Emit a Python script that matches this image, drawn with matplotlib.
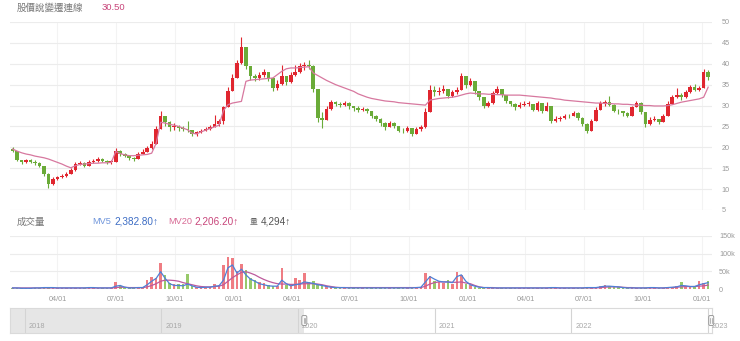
import matplotlib
matplotlib.use('Agg')
import matplotlib.pyplot as plt
import matplotlib.dates as mdates
from matplotlib.patches import FancyBboxPatch
from matplotlib.transforms import IdentityTransform
import numpy as np
import pandas as pd

plt.rcParams['font.family'] = ['Liberation Sans', 'Noto Sans CJK TC', 'DejaVu Sans']

W, H = 740, 341

# ---------------- data (weekly) ----------------
week_start = '2020-01-20'
first_open = 19.6

close = [19.2, 17.0, 16.4, 16.9, 16.6, 16.2, 15.6, 13.6, 11.2, 12.4,
         12.8, 13.1, 13.6, 14.6, 16.0, 16.3, 15.6, 16.6, 16.8, 17.1,
         16.8, 16.5, 16.5, 19.2, 18.4, 18.0, 17.4, 17.2, 18.5, 19.0,
         19.8, 20.8, 24.5, 27.5, 26.0, 24.8, 25.2, 24.7, 24.4, 24.2,
         23.2, 23.6, 24.0, 24.4, 24.8, 25.6, 26.2, 29.6, 33.5, 36.5,
         40.2, 44.0, 39.5, 37.0, 36.6, 37.2, 38.0, 36.5, 34.2, 35.2,
         37.0, 35.6, 37.2, 38.0, 39.4, 39.8, 39.5, 34.0, 27.0, 26.5,
         29.2, 30.8, 30.4, 30.2, 30.6, 29.8, 29.4, 28.9, 29.2, 28.6,
         27.6, 26.8, 25.8, 24.8, 25.8, 25.2, 24.0, 23.8, 24.6, 23.2,
         24.4, 24.8, 28.5, 33.8, 33.2, 33.6, 34.0, 32.2, 33.2, 33.8,
         37.0, 35.0, 35.8, 33.4, 32.0, 30.0, 30.6, 33.0, 34.0, 32.6,
         31.2, 30.4, 29.6, 30.2, 30.4, 30.4, 29.0, 30.6, 28.6, 30.0,
         26.2, 26.8, 27.0, 27.6, 27.4, 28.2, 27.0, 25.6, 24.0, 26.2,
         29.0, 30.6, 30.8, 30.2, 28.8, 28.6, 28.2, 27.6, 29.6, 30.6,
         28.4, 25.6, 26.6, 26.8, 26.0, 27.6, 30.4, 32.0, 32.6, 32.0,
         33.2, 34.4, 33.8, 34.2, 38.0, 36.8]

high = [20.0, 18.0, 17.0, 17.2, 17.1, 17.0, 16.6, 15.6, 13.8, 12.9,
        13.2, 13.5, 14.0, 15.0, 16.6, 16.8, 16.4, 17.0, 17.3, 17.6,
        17.4, 17.0, 16.9, 19.8, 19.4, 18.6, 18.1, 17.8, 18.9, 19.5,
        20.3, 21.5, 25.2, 28.8, 27.5, 26.2, 25.8, 25.4, 25.2, 26.2,
        24.0, 24.0, 24.4, 24.8, 25.4, 27.8, 26.8, 30.0, 34.5, 37.5,
        41.0, 46.3, 43.5, 39.5, 37.5, 38.0, 38.8, 37.8, 36.4, 36.0,
        39.8, 37.0, 38.0, 39.8, 40.2, 40.4, 41.0, 39.6, 34.0, 28.5,
        29.8, 31.4, 31.2, 30.8, 31.0, 30.8, 30.0, 29.8, 29.6, 29.4,
        28.6, 27.8, 27.0, 26.0, 26.3, 26.0, 25.2, 24.6, 25.2, 24.6,
        24.8, 25.4, 29.5, 35.0, 34.6, 34.4, 35.0, 34.0, 33.8, 34.4,
        37.8, 37.0, 36.6, 35.8, 33.6, 31.8, 31.2, 33.6, 34.6, 34.0,
        32.6, 31.2, 30.6, 30.8, 31.0, 31.0, 30.4, 31.2, 30.6, 30.8,
        30.0, 27.4, 27.6, 28.0, 28.0, 28.8, 28.4, 27.2, 25.8, 26.8,
        29.6, 31.2, 31.4, 32.2, 30.4, 29.2, 28.8, 28.4, 30.0, 31.0,
        30.8, 28.4, 27.2, 27.4, 26.8, 28.0, 31.2, 32.6, 34.2, 33.0,
        33.8, 35.0, 35.2, 34.8, 38.8, 38.6]

low = [18.8, 16.8, 16.0, 16.2, 16.3, 15.8, 15.2, 13.2, 10.2, 11.0,
       12.2, 12.6, 13.0, 13.8, 14.4, 15.8, 15.2, 15.5, 16.3, 16.6,
       16.4, 16.0, 16.1, 16.4, 18.0, 17.6, 17.0, 16.8, 17.2, 18.3,
       19.0, 19.6, 20.8, 24.5, 25.2, 24.0, 24.2, 24.0, 23.8, 23.6,
       22.8, 22.8, 23.4, 23.8, 24.2, 24.8, 25.2, 25.6, 29.6, 33.5,
       36.5, 40.0, 38.8, 36.2, 35.8, 36.2, 36.8, 35.8, 33.4, 33.8,
       35.0, 35.0, 35.4, 37.0, 37.8, 38.6, 38.8, 33.2, 26.0, 24.6,
       26.5, 29.0, 29.8, 29.6, 29.8, 29.2, 28.8, 28.4, 28.6, 28.2,
       27.0, 26.2, 25.2, 24.2, 24.8, 24.6, 23.6, 23.4, 23.6, 22.6,
       23.2, 24.0, 24.6, 28.5, 32.4, 32.6, 33.0, 31.8, 32.0, 32.8,
       33.8, 34.2, 34.6, 32.8, 31.4, 29.4, 29.6, 30.4, 32.8, 32.0,
       30.6, 29.8, 29.0, 29.4, 29.8, 29.8, 28.6, 28.8, 28.2, 28.6,
       25.8, 26.0, 26.4, 26.8, 27.0, 27.4, 26.6, 25.0, 23.4, 24.0,
       26.2, 29.0, 30.0, 29.8, 28.4, 28.0, 27.6, 27.2, 27.6, 29.6,
       28.0, 24.8, 25.4, 26.2, 25.6, 26.0, 27.6, 30.4, 31.8, 31.4,
       31.8, 33.0, 33.4, 33.6, 34.2, 36.2]

ma_line = [19.6, 19.1, 18.7, 18.4, 18.2, 17.9, 17.7, 17.5, 17.2, 16.8,
           16.4, 16.0, 15.5, 15.1, 15.6, 15.9, 16.0, 16.1, 16.2, 16.2,
           16.3, 16.3, 16.4, 19.0, 18.5, 18.2, 18.0, 18.0, 18.1, 18.2,
           18.3, 18.6, 21.0, 26.0, 25.8, 25.5, 25.3, 25.0, 24.6, 24.2,
           23.4, 23.2, 23.7, 24.1, 24.5, 24.9, 25.3, 28.8, 30.2, 30.6,
           30.8, 31.0, 35.8, 36.1, 36.2, 36.3, 36.4, 36.5, 36.6, 37.4,
           38.2, 38.8, 39.0, 39.0, 39.1, 39.2, 39.3, 37.8, 37.2, 36.6,
           36.0, 35.5, 35.0, 34.6, 34.2, 33.8, 33.4, 32.8, 32.4, 32.0,
           31.7, 31.5, 31.3, 31.1, 31.0, 30.9, 30.7, 30.6, 30.5, 30.4,
           30.3, 30.2, 30.1, 31.3, 31.5, 31.7, 31.8, 31.9, 32.0, 32.2,
           32.5, 32.8, 33.0, 32.9, 32.8, 32.8, 32.7, 32.7, 32.6, 32.6,
           32.5, 32.5, 32.5, 32.5, 32.4, 32.3, 32.2, 32.1, 32.0, 31.9,
           31.8, 31.6, 31.5, 31.3, 31.2, 31.1, 31.0, 30.9, 30.8, 30.7,
           30.6, 30.6, 30.5, 30.5, 30.4, 30.4, 30.3, 30.3, 30.2, 30.1,
           30.1, 30.0, 30.0, 29.9, 29.9, 29.9, 30.0, 30.2, 30.5, 30.8,
           31.0, 31.2, 31.4, 31.6, 32.0, 34.4]

volume_k = [3, 2, 2, 3, 2, 3, 4, 5, 4, 3, 3, 2, 3, 3, 4, 3, 3, 5, 3, 3, 2, 3, 4,
            21, 8, 4, 3, 3, 4, 5,
            25, 34, 30, 74, 40, 18, 13, 14, 15, 42,
            8, 5, 5, 5, 6, 15, 12, 68, 91, 88,
            50, 70, 55, 30, 25, 20, 18, 10, 8, 8,
            60, 10, 9, 30, 25, 45, 20, 22, 15, 12,
            8, 5, 4, 4,
            4, 3, 3, 4, 3, 3, 3, 4, 3, 3, 4, 3, 3, 3, 4, 3, 5, 6,
            45, 38, 22, 20, 18, 25, 15, 49, 40, 15, 12, 6, 4,
            4, 3, 3, 4, 3, 3, 4, 3, 3, 3,
            4, 3, 3, 4, 3, 5, 4, 3, 3, 4,
            3, 3, 4, 5, 4, 4, 8, 10, 9, 7,
            5, 4, 3, 3, 4, 3, 4, 5, 4, 3,
            4, 5, 6, 8, 20, 7, 6, 8, 22, 18, 24]

mv5_k = [3, 3, 2, 2, 2, 3, 3, 4, 4, 4, 3, 3, 3, 3, 3, 3, 3, 4, 4, 3, 3, 3, 3,
         8, 10, 5, 3, 3, 4, 4,
         12, 22, 30, 49, 30, 15, 10, 10, 9, 14,
         9, 5, 4, 5, 5, 8, 9, 25, 60, 68,
         45, 56, 40, 28, 22, 15, 12, 9, 8, 8,
         25, 15, 9, 12, 14, 20, 18, 16, 12, 10,
         7, 5, 4, 4,
         4, 3, 3, 3, 3, 3, 3, 3, 3, 3, 3, 3, 3, 3, 3, 3, 4, 5,
         20, 35, 28, 22, 20, 20, 18, 35, 40, 22, 12, 8, 5,
         4, 4, 3, 3, 3, 3, 3, 3, 3, 3,
         3, 3, 3, 3, 3, 4, 4, 3, 3, 3,
         3, 3, 3, 4, 4, 4, 6, 8, 8, 7,
         6, 4, 3, 3, 3, 3, 3, 4, 4, 3,
         3, 4, 5, 6, 10, 9, 7, 7, 12, 15, 18]

mv20_k = [3, 3, 3, 3, 3, 3, 3, 3, 3, 3, 3, 3, 3, 3, 3, 3, 3, 3, 3, 3, 3, 3, 3,
          4, 5, 5, 4, 4, 4, 4,
          6, 10, 15, 22, 25, 25, 24, 22, 18, 15,
          12, 9, 7, 6, 6, 7, 8, 12, 22, 32,
          40, 47, 49, 45, 40, 33, 27, 22, 18, 15,
          14, 14, 13, 13, 14, 15, 15, 15, 14, 12,
          9, 7, 5, 4,
          4, 4, 4, 4, 4, 4, 4, 4, 4, 4, 4, 4, 4, 4, 4, 4, 4, 4,
          8, 14, 18, 20, 20, 20, 19, 19, 20, 17, 15, 10, 6,
          4, 4, 4, 3, 3, 3, 3, 3, 3, 3,
          3, 3, 3, 3, 3, 3, 3, 3, 3, 3,
          3, 3, 3, 3, 3, 3, 4, 5, 6, 6,
          6, 5, 4, 4, 3, 3, 3, 3, 3, 3,
          3, 4, 4, 5, 6, 7, 7, 7, 8, 9, 11]

tick_dates = ['2020-04-01', '2020-07-01', '2020-10-01', '2021-01-01', '2021-04-01',
              '2021-07-01', '2021-10-01', '2022-01-01', '2022-04-01', '2022-07-01',
              '2022-10-01', '2023-01-01']
tick_labels = ['04/01', '07/01', '10/01', '01/01', '04/01', '07/01', '10/01',
               '01/01', '04/01', '07/01', '10/01', '01/01']
price_ticks = [5, 10, 15, 20, 25, 30, 35, 40, 45, 50]
vol_ticks = [0, 50, 100, 150]
vol_tick_labels = ['0', '50k', '100k', '150k']
nav_years = ['2018', '2019', '2020', '2021', '2022', '2023']

title_text = '股價說變遷連線'
title_value = '30.50'
vol_title = '成交量'
mv5_text, mv5_value = 'MV5', '2,382.80↑'
mv20_text, mv20_value = 'MV20', '2,206.20↑'
vol_text, vol_value = '量', '4,294↑'

# ---------------- styling ----------------
RED = '#e0262f'
GREEN = '#6aab38'
PINK = '#d7789f'
BLUE = '#4f80d6'
PURPLE = '#bd5a9c'
GRID = '#ececec'
TICKC = '#9a9a9a'

main_x0, main_x1 = '2020-01-18', '2023-01-17'
nav_x0, nav_x1 = '2017-11-22', '2023-01-12'

fig = plt.figure(figsize=(W / 100, H / 100), dpi=100)
fig.patch.set_facecolor('white')


def px_axes(x0, y0, x1, y1):
    return fig.add_axes([x0 / W, 1 - y1 / H, (x1 - x0) / W, (y1 - y0) / H])


def ftext(x, y, s, **kw):
    fig.text(x / W, 1 - y / H, s, va='center', ha='left', **kw)


dates = pd.date_range(week_start, periods=len(close), freq='7D')
xc = mdates.date2num(dates + pd.Timedelta(days=2))
c = np.array(close)
o = np.concatenate([[first_open], c[:-1]])
up = c >= o
body_lo = np.minimum(o, c)
body_hi = np.maximum(o, c)
body_h = np.maximum(body_hi - body_lo, 0.15)
hi = np.maximum(np.array(high), body_hi)
lo = np.minimum(np.array(low), body_lo)
cols = np.where(up, RED, GREEN)

xticks_num = mdates.datestr2num(tick_dates)

# ---------------- price panel ----------------
ax = px_axes(10, 22, 712, 210)
ax.set_xlim(mdates.datestr2num(main_x0), mdates.datestr2num(main_x1))
ax.set_ylim(5, 50)
ax.set_yticks(price_ticks)
ax.set_xticks(xticks_num)
ax.grid(axis='y', color=GRID, lw=0.8)
ax.grid(axis='x', color='#f3f3f3', lw=0.8)
ax.set_axisbelow(True)
for s in ax.spines.values():
    s.set_visible(False)
ax.yaxis.tick_right()
ax.tick_params(axis='y', length=0, labelsize=5.2, labelcolor=TICKC, pad=7)
ax.tick_params(axis='x', length=0, labelbottom=False)
ax.vlines(xc, lo, hi, colors=cols, lw=0.8, zorder=2)
ax.bar(xc, body_h, bottom=body_lo, width=5.6, color=cols, lw=0, zorder=3)
ax.plot(xc, ma_line, color=PINK, lw=0.9, zorder=4)

# ---------------- volume panel ----------------
av = px_axes(10, 236, 712, 289)
av.set_xlim(ax.get_xlim())
av.set_ylim(0, 150)
av.set_yticks(vol_ticks)
av.set_yticklabels(vol_tick_labels)
av.set_xticks(xticks_num)
av.set_xticklabels(tick_labels)
av.grid(axis='y', color=GRID, lw=0.8)
av.grid(axis='x', color='#f3f3f3', lw=0.8)
av.set_axisbelow(True)
for s in av.spines.values():
    s.set_visible(False)
av.yaxis.tick_right()
av.tick_params(axis='y', length=0, labelsize=5.2, labelcolor=TICKC, pad=5)
av.tick_params(axis='x', length=0, labelsize=5.2, labelcolor=TICKC, pad=5)
vcols = np.where(up, '#ee6f76', '#8cc45a')
av.bar(xc, volume_k, width=4.0, color=vcols, lw=0, alpha=0.9, zorder=2)
av.plot(xc, mv20_k, color=PURPLE, lw=0.9, zorder=3)
av.plot(xc, mv5_k, color=BLUE, lw=0.9, zorder=4)

# ---------------- navigator ----------------
an = px_axes(10, 308, 712, 333)
nx0, nx1 = mdates.datestr2num(nav_x0), mdates.datestr2num(nav_x1)
an.set_xlim(nx0, nx1)
an.set_ylim(0, 1)
an.set_xticks([])
an.set_yticks([])
for s in an.spines.values():
    s.set_color('#dadada')
    s.set_linewidth(0.8)
sel0 = mdates.datestr2num(main_x0)
an.axvspan(nx0, sel0, color='#e6e6e6', lw=0, zorder=0)
for yr in nav_years:
    xd = mdates.datestr2num(yr + '-01-01')
    an.axvline(xd, color='#d4d4d4', lw=0.8, zorder=1)
    an.text(xd + 10, 0.24, yr, fontsize=5.3, color='#a8a8a8', va='center', ha='left')

fig.canvas.draw()
for hx in (sel0, nx1 - 2):
    px, py = an.transData.transform((hx, 0.5))
    fig.add_artist(FancyBboxPatch((px - 2.5, py - 5), 5, 10,
                                  boxstyle='round,pad=0,rounding_size=1.5',
                                  facecolor='#f7f7f7', edgecolor='#8f8f8f', lw=0.6,
                                  transform=IdentityTransform(), zorder=10))
    for dx in (-0.8, 0.8):
        fig.add_artist(plt.Line2D([px + dx, px + dx], [py - 2.5, py + 2.5],
                                  color='#9a9a9a', lw=0.5,
                                  transform=IdentityTransform(), zorder=11))

# ---------------- header texts ----------------
ftext(17, 8, title_text, fontsize=6.8, color='#777777')
ftext(102, 8, title_value, fontsize=6.8, color='#c8457a')
ftext(17, 222, vol_title, fontsize=6.8, color='#777777')
ftext(92, 222, mv5_text, fontsize=6.6, color='#6f95db')
ftext(114, 222, mv5_value, fontsize=7.2, color='#3c6cc4')
ftext(168, 222, mv20_text, fontsize=6.6, color='#d86a95')
ftext(194, 222, mv20_value, fontsize=7.2, color='#c8457a')
ftext(250, 222, vol_text, fontsize=5.6, color='#666666')
ftext(261, 222, vol_value, fontsize=7.2, color='#555555')

fig.savefig('out.png', dpi=100, facecolor='white')
